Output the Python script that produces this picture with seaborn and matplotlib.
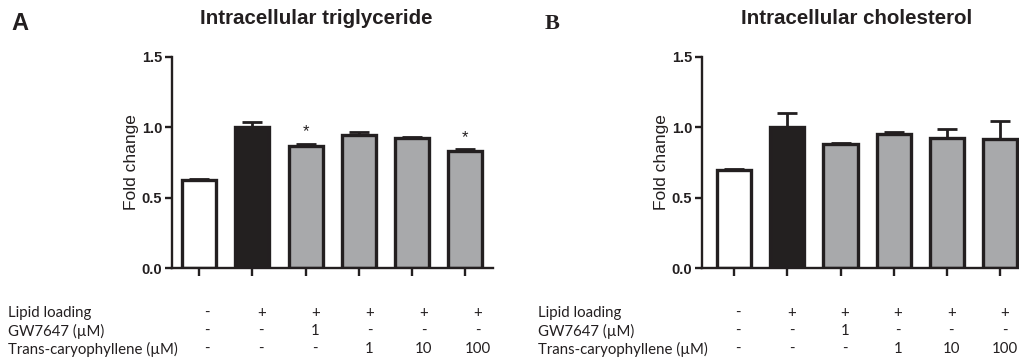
import numpy as np
import pandas as pd
import matplotlib
matplotlib.use("Agg")
import matplotlib.pyplot as plt
import matplotlib.transforms as mtransforms
import seaborn as sns

# ---- data ----
groups = ["G1", "G2", "G3", "G4", "G5", "G6"]
tg_mean = [0.625, 1.00, 0.87, 0.945, 0.925, 0.835]
tg_err = [0.008, 0.035, 0.015, 0.02, 0.004, 0.012]
tg_star = [False, False, True, False, False, True]
chol_mean = [0.70, 1.005, 0.885, 0.95, 0.925, 0.915]
chol_err = [0.005, 0.10, 0.004, 0.016, 0.06, 0.13]
chol_star = [False] * 6
titles = ["Intracellular triglyceride", "Intracellular cholesterol"]
panel_letters = ["A", "B"]
row_labels = ["Lipid loading", "GW7647 (\u00b5M)", "Trans-caryophyllene (\u00b5M)"]
lipid_row = ["-", "+", "+", "+", "+", "+"]
gw_row = ["-", "-", "1", "-", "-", "-"]
tc_row = ["-", "-", "-", "1", "10", "100"]
yticks = [0.0, 0.5, 1.0, 1.5]
ytick_labels = ["0.0", "0.5", "1.0", "1.5"]

EDGE = "#231f20"
colors = ["#ffffff", "#231f20", "#a7a9ac", "#a7a9ac", "#a7a9ac", "#a7a9ac"]

sns.set_theme(style="ticks")
plt.rcParams["font.family"] = ["Liberation Sans", "DejaVu Sans"]

W, H = 1020, 359
fig = plt.figure(figsize=(W / 100, H / 100), dpi=100)

def px_axes(left, right, top, bottom):
    return fig.add_axes([left / W, 1 - bottom / H, (right - left) / W, (bottom - top) / H])

axA = px_axes(172, 493, 57, 268)
axB = px_axes(702, 1027, 57, 268)

panels = [
    (axA, tg_mean, tg_err, tg_star, (-0.51, 5.52), 8, 20, "sans", 316, 0.15, 0.016, 17),
    (axB, chol_mean, chol_err, chol_star, (-0.60, 5.50), 538, 552, "serif", 857, 0.08, 0.0, 16),
]

for i, (ax, mean, err, star, xl, rowx, letx, letfam, titx, off0, offd, letsize) in enumerate(panels):
    df = pd.DataFrame({"group": groups, "value": mean})
    sns.barplot(data=df, x="group", y="value", hue="group", palette=colors,
                order=groups, hue_order=groups, legend=False, errorbar=None,
                width=0.64, edgecolor=EDGE, linewidth=2.4, ax=ax, zorder=2)
    xs = np.arange(len(groups))
    ax.errorbar(xs, mean, yerr=[np.zeros(len(err)), err], fmt="none",
                ecolor=EDGE, elinewidth=2.0, capsize=7.5, capthick=2.0, zorder=1)
    for x, m, e, s in zip(xs, mean, err, star):
        if s:
            ax.text(x, m + e + 0.03, "*", ha="center", va="bottom",
                    fontsize=12, color=EDGE)
    ax.set_xlim(*xl)
    ax.set_ylim(0, 1.5)
    ax.set_yticks(yticks)
    ax.set_yticklabels(ytick_labels, fontweight="bold", fontsize=10.5, color=EDGE)
    ax.set_xticks(xs)
    ax.set_xticklabels([""] * len(groups))
    ax.set_xlabel("")
    ax.set_ylabel("Fold change", fontsize=12.5, color=EDGE, labelpad=2)
    for sp in ["top", "right"]:
        ax.spines[sp].set_visible(False)
    for sp in ["left", "bottom"]:
        ax.spines[sp].set_linewidth(1.7)
        ax.spines[sp].set_color(EDGE)
    ax.tick_params(axis="both", width=1.7, color=EDGE, direction="out")
    ax.tick_params(axis="y", length=5, pad=2)
    ax.tick_params(axis="x", length=6)

    fig.text(titx / W, 1 - 18 / H, titles[i], ha="center", va="center",
             fontsize=14.8, fontweight="bold", color=EDGE)

    # condition table
    trans = mtransforms.blended_transform_factory(ax.transData, fig.transFigure)
    row_y = [313, 331, 349]
    for ry, lab, vals in zip(row_y, row_labels, [lipid_row, gw_row, tc_row]):
        fig.text(rowx / W, 1 - ry / H, lab, ha="left", va="center",
                 fontsize=10.8, family=["Lato", "DejaVu Sans"], color=EDGE)
        for x, v in zip(xs, vals):
            ax.text(x + off0 + offd * x, 1 - ry / H, v, transform=trans, ha="center",
                    va="center", fontsize=10.8, family=["Lato", "DejaVu Sans"],
                    color=EDGE, clip_on=False)

    fig.text(letx / W, 1 - 24 / H, panel_letters[i], ha="center", va="center",
             fontsize=letsize, fontweight="bold", color=EDGE,
             family=["Liberation Sans"] if letfam == "sans" else ["Liberation Serif"])

fig.savefig("out.png", dpi=100, facecolor="white")
